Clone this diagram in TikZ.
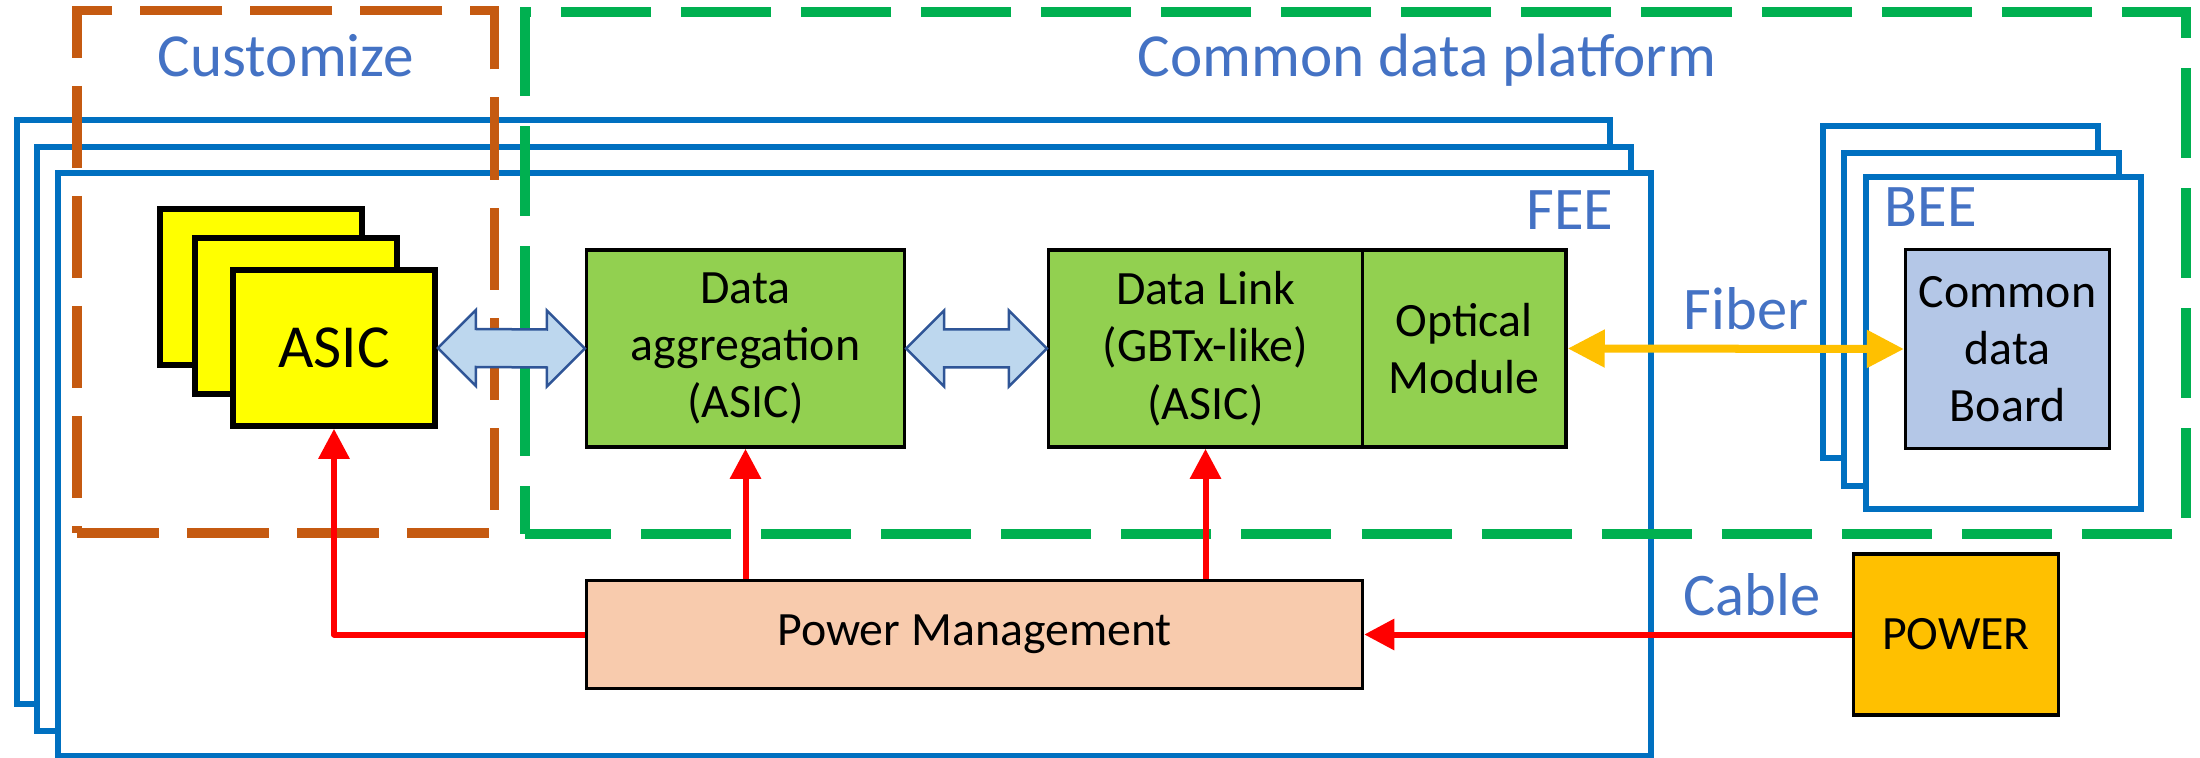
\documentclass[tikz,border=0pt]{standalone}
\usepackage{fontspec}
\setmainfont{Carlito}
\usetikzlibrary{arrows.meta, positioning, calc}
\definecolor{labelblue}{HTML}{4472C4}
\definecolor{feeblue}{HTML}{0070C0}
\definecolor{custorange}{HTML}{C55A11}
\definecolor{cdpgreen}{HTML}{00B050}
\definecolor{chipgreen}{HTML}{92D050}
\definecolor{asicyellow}{HTML}{FFFF00}
\definecolor{busfill}{HTML}{BDD7EE}
\definecolor{busline}{HTML}{2F5597}
\definecolor{boardfill}{HTML}{B4C7E7}
\definecolor{pmfill}{HTML}{F8CBAD}
\definecolor{powergold}{HTML}{FFC000}
\tikzset{
  board/.style={draw=feeblue, rectangle, line width=0.06cm, fill=white, inner sep=0pt},
  feeboard/.style={board, minimum width=15.93cm, minimum height=5.83cm},
  beeboard/.style={board, minimum width=2.75cm, minimum height=3.32cm},
  custzone/.style={draw=custorange, line width=0.09cm, dash pattern=on 0.82cm off 0.28cm},
  cdpzone/.style={draw=cdpgreen, line width=0.095cm, dash pattern=on 0.9cm off 0.3cm, dash phase=0.04cm},
  zonelabel/.style={text=labelblue, inner sep=0pt, font=\fontsize{17.4}{20}\selectfont},
  tag/.style={zonelabel, font=\fontsize{17.2}{20}\selectfont},
  chip/.style={draw=black, fill=asicyellow, rectangle, line width=0.055cm, minimum width=2.02cm, minimum height=1.56cm, inner sep=0pt, font=\fontsize{17.4}{20}\selectfont},
  box/.style={draw=black, rectangle, line width=0.035cm, align=center, inner sep=0pt, font=\fontsize{13.6}{16.3}\selectfont},
  greenbox/.style={box, fill=chipgreen, minimum height=1.97cm},
  busarrow/.style={draw=busline, fill=busfill, line width=0.025cm, line join=miter},
  fiberline/.style={{Triangle[length=0.37cm,width=0.36cm]}-{Triangle[length=0.37cm,width=0.36cm]}, draw=powergold, line width=0.08cm},
  powerline/.style={-{Triangle[length=0.3cm,width=0.3cm]}, draw=red, line width=0.06cm, line join=round}
}
\newcommand{\dataarrow}[2]{%
  \draw[busarrow] (#1) -- ++(38,-38) -- ++(0,19) -- ($(#2)+(-38,-19)$) -- ++(0,-19) -- (#2)
    -- ++(-38,38) -- ++(0,-19) -- ($(#1)+(38,19)$) -- ++(0,19) -- cycle;}

\begin{document}
\begin{tikzpicture}[x=0.01cm, y=-0.01cm]

\useasboundingbox (0,0) rectangle (2200,758);

\node[feeboard] (fee1) at (813.5,412) {};
\node[feeboard] (fee2) at (834,439) {};
\node[feeboard] (fee3) at (854.5,464.5) {};

\node[beeboard] (bee1) at (1960.5,292) {};
\node[beeboard] (bee2) at (1981.5,319.5) {};
\node[beeboard] (bee3) at (2003.5,343) {};

\draw[custzone] (77,533) -- (494,533) -- (494,11) -- (77,11) -- cycle;
\draw[cdpzone] (525,534) -- (2186,534) -- (2186,12) -- (525,12) -- cycle;

\node[zonelabel, anchor=base] (customize) at (286,77) {Customize};
\node[zonelabel, anchor=base] (cdp) at (1427,77) {Common data platform};
\node[tag, anchor=base east] (feelabel) at (1614,230) {FEE};
\node[tag, anchor=base west] (beelabel) at (1884,227) {BEE};
\node[tag, anchor=base west] (fiber) at (1683,330) {Fiber};
\node[tag, anchor=base west] (cable) at (1683,615) {Cable};

\node[chip] (asic1) at (261,287) {};
\node[chip] (asic2) at (296,316) {};
\node[chip] (asic3) at (334,348) {ASIC};

\node[greenbox, minimum width=3.175cm] (agg) at (745.5,348.5) {Data\\aggregation\\(ASIC)};
\node[greenbox, minimum width=3.135cm] (link) at (1205.5,348.5) {Data Link\\(GBTx-like)\\(ASIC)};
\node[greenbox, minimum width=2.035cm, right=-0.035cm of link] (optic) {Optical\\Module};
\node[box, fill=pmfill, minimum width=7.755cm, minimum height=1.075cm] (pm) at (974.5,634.5) {Power Management};
\node[box, fill=powergold, minimum width=2.045cm, minimum height=1.605cm] (power) at (1956,634.5) {POWER};
\node[box, fill=boardfill, minimum width=2.035cm, minimum height=1.985cm] (board) at (2007.5,349) {Common\\data\\Board};

\dataarrow{asic3.east}{agg.west}
\dataarrow{agg.east}{link.west}

\draw[fiberline] (optic.east) -- (board.west);

\draw[powerline] (power.west) -- (pm.east);
\draw[powerline] (pm.west) -| (asic3.south);
\draw[powerline] (pm.north -| agg.south) -- (agg.south);
\draw[powerline] (pm.north -| link.south) -- (link.south);

\end{tikzpicture}
\end{document}
